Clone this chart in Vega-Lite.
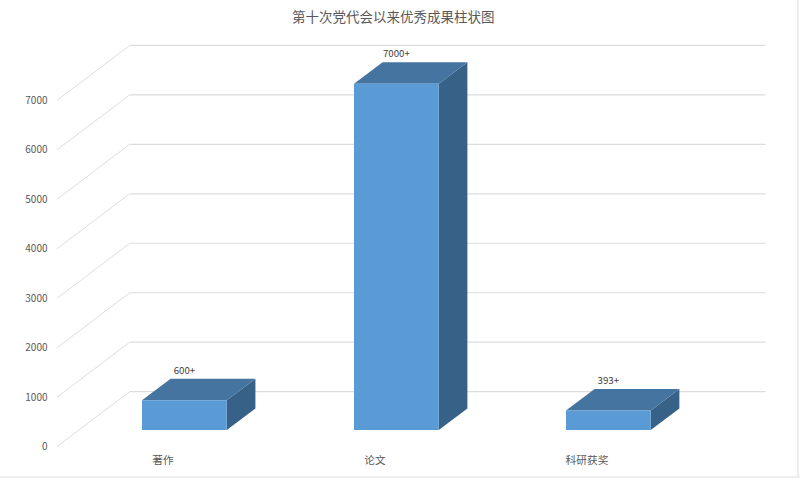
{
  "$schema": "https://vega.github.io/schema/vega-lite/v6.json",
  "width": 750,
  "height": 449,
  "autosize": "none",
  "padding": {"left": 50, "top": 30, "right": 0, "bottom": 0},
  "background": "#FFFFFF",
  "title": {
    "text": "第十次党代会以来优秀成果柱状图",
    "font": "Noto Sans CJK SC",
    "fontSize": 13.5,
    "fontWeight": "normal",
    "color": "#595959",
    "anchor": "start",
    "frame": "group",
    "dx": 242,
    "offset": -25
  },
  "datasets": {
    "bars": [
      {"item": "著作", "slot": 0, "value": 600, "label": "600+"},
      {"item": "论文", "slot": 1, "value": 7000, "label": "7000+"},
      {"item": "科研获奖", "slot": 2, "value": 393, "label": "393+"}
    ],
    "ticks": [
      {"level": 0}, {"level": 1000}, {"level": 2000}, {"level": 3000},
      {"level": 4000}, {"level": 5000}, {"level": 6000}, {"level": 7000}
    ],
    "edges": [{"edge": "frame"}]
  },
  "layer": [
    {
      "data": {"name": "ticks"},
      "transform": [{"calculate": "datum.level + 1112", "as": "back"}],
      "mark": {"type": "rule", "color": "#DDDDDD", "strokeWidth": 1},
      "encoding": {
        "x": {"datum": 0, "type": "quantitative", "scale": {"domain": [-0.033, 3.505], "nice": false, "zero": false}},
        "x2": {"datum": 0.343},
        "y": {
          "field": "level",
          "type": "quantitative",
          "scale": {"domain": [-653, 8423], "nice": false, "zero": false},
          "axis": {
            "title": null,
            "values": [0, 1000, 2000, 3000, 4000, 5000, 6000, 7000],
            "format": "d",
            "domain": false,
            "ticks": false,
            "grid": false,
            "labelPadding": 3,
            "labelFont": "Noto Sans CJK SC",
            "labelFontSize": 10,
            "labelColor": "#595959"
          }
        },
        "y2": {"field": "back"}
      }
    },
    {
      "data": {"name": "ticks"},
      "transform": [{"calculate": "datum.level + 1112", "as": "back"}],
      "mark": {"type": "rule", "color": "#DDDDDD", "strokeWidth": 1.2},
      "encoding": {
        "x": {"datum": 0.343, "type": "quantitative"},
        "x2": {"datum": 3.343},
        "y": {"field": "back", "type": "quantitative"}
      }
    },
    {
      "data": {"name": "edges"},
      "mark": {"type": "rule", "color": "#E8E8E8", "strokeWidth": 1.5},
      "encoding": {
        "x": {"datum": -0.269, "type": "quantitative"},
        "x2": {"datum": 3.505},
        "y": {"datum": -612, "type": "quantitative"}
      }
    },
    {
      "data": {"name": "edges"},
      "mark": {"type": "rule", "color": "#E8E8E8", "strokeWidth": 1.5},
      "encoding": {
        "x": {"datum": 3.495, "type": "quantitative"},
        "y": {"datum": -612, "type": "quantitative"},
        "y2": {"datum": 9030}
      }
    },
    {
      "data": {"name": "bars"},
      "transform": [
        {"calculate": "[0, 1]", "as": "depth"},
        {"flatten": ["depth"]},
        {"calculate": "datum.slot + 0.801 + datum.depth * 0.135", "as": "sideX"},
        {"calculate": "datum.value + 338 + datum.depth * 435", "as": "topY"},
        {"calculate": "338 + datum.depth * 435", "as": "bottomY"}
      ],
      "mark": {"type": "area", "orient": "vertical", "color": "#376187"},
      "encoding": {
        "x": {"field": "sideX", "type": "quantitative"},
        "y": {"field": "topY", "type": "quantitative"},
        "y2": {"field": "bottomY"},
        "detail": {"field": "item"}
      }
    },
    {
      "data": {"name": "bars"},
      "transform": [
        {"calculate": "[0, 1]", "as": "depth"},
        {"flatten": ["depth"]},
        {"calculate": "datum.slot + 0.401 + datum.depth * 0.135", "as": "leftX"},
        {"calculate": "datum.slot + 0.801 + datum.depth * 0.135", "as": "rightX"},
        {"calculate": "datum.value + 338 + datum.depth * 435", "as": "topY"}
      ],
      "mark": {"type": "area", "orient": "horizontal", "color": "#44749F"},
      "encoding": {
        "y": {"field": "topY", "type": "quantitative"},
        "x": {"field": "leftX", "type": "quantitative"},
        "x2": {"field": "rightX"},
        "detail": {"field": "item"}
      }
    },
    {
      "data": {"name": "bars"},
      "transform": [
        {"calculate": "datum.slot + 0.401", "as": "leftX"},
        {"calculate": "datum.slot + 0.801", "as": "rightX"},
        {"calculate": "datum.value + 338", "as": "topY"},
        {"calculate": "338", "as": "bottomY"}
      ],
      "mark": {"type": "rect", "color": "#5B9BD5"},
      "encoding": {
        "x": {"field": "leftX", "type": "quantitative"},
        "x2": {"field": "rightX"},
        "y": {"field": "topY", "type": "quantitative"},
        "y2": {"field": "bottomY"}
      }
    },
    {
      "data": {"name": "bars"},
      "transform": [
        {"calculate": "datum.slot + 0.601", "as": "labelX"},
        {"calculate": "datum.value + 773", "as": "labelY"}
      ],
      "mark": {
        "type": "text",
        "font": "Noto Sans CJK SC",
        "fontSize": 9.7,
        "color": "#404040",
        "baseline": "middle",
        "dy": -8
      },
      "encoding": {
        "x": {"field": "labelX", "type": "quantitative"},
        "y": {"field": "labelY", "type": "quantitative"},
        "text": {"field": "label"}
      }
    },
    {
      "data": {"name": "bars"},
      "transform": [{"calculate": "datum.slot + 0.5", "as": "nameX"}],
      "mark": {
        "type": "text",
        "font": "Noto Sans CJK SC",
        "fontSize": 10.7,
        "color": "#595959",
        "baseline": "middle"
      },
      "encoding": {
        "x": {"field": "nameX", "type": "quantitative"},
        "y": {"datum": -285, "type": "quantitative"},
        "text": {"field": "item"}
      }
    }
  ],
  "config": {
    "axisX": {"disable": true},
    "view": {"stroke": null}
  }
}
